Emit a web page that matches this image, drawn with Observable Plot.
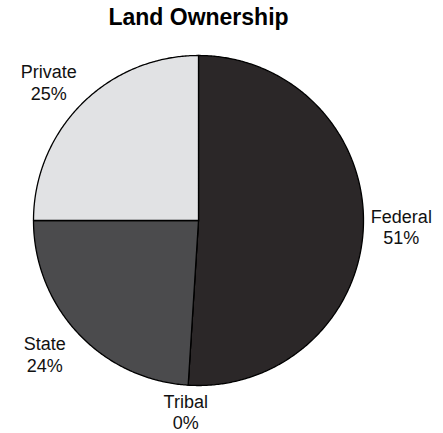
<!DOCTYPE html>
<html>
<head>
<meta charset="utf-8">
<script src="https://cdn.jsdelivr.net/npm/d3@7"></script>
<script src="https://cdn.jsdelivr.net/npm/@observablehq/plot@0.6"></script>
<style>
  html, body { margin: 0; padding: 0; background: #fff; }
</style>
</head>
<body>
<div id="chart"></div>
<script>
const title = "Land Ownership";
const categories = ["Federal", "Tribal", "State", "Private"];
const values = [51, 0, 24, 25];
const colors = ["#2b2728", "#3a3a3c", "#4b4b4d", "#e1e2e4"];

const total = d3.sum(values);
// angles clockwise from 12 o'clock
const pie = d3.pie().sort(null).value(d => d)(values);

const wedgePoints = [];
pie.forEach((p, i) => {
  const a0 = p.startAngle, a1 = p.endAngle;
  const n = Math.max(1, Math.ceil((a1 - a0) / (Math.PI / 360)));
  wedgePoints.push({name: categories[i], x: 0, y: 0});
  for (let k = 0; k <= n; k++) {
    const a = a0 + (a1 - a0) * k / n;
    wedgePoints.push({name: categories[i], x: Math.sin(a), y: Math.cos(a)});
  }
  wedgePoints.push({name: categories[i], x: 0, y: 0});
});

// label placed outside the slice: radial point plus half a text box
const r0 = 1.1, hw = 0.13, hh = 0.06;
const labels = pie.map((p, i) => {
  const a = (p.startAngle + p.endAngle) / 2;
  const sx = Math.sin(a), cy = Math.cos(a);
  const m = Math.max(Math.abs(sx), Math.abs(cy));
  return {
    text: categories[i] + "\n" + Math.round(values[i] / total * 100) + "%",
    x: sx * r0 + hw * sx / m,
    y: cy * r0 + hh * cy / m
  };
});

const chart = Plot.plot({
  width: 443,
  height: 433,
  marginLeft: 33,
  marginRight: 80,
  marginTop: 55,
  marginBottom: 48,
  x: {domain: [-1, 1], axis: null},
  y: {domain: [-1, 1], axis: null},
  color: {domain: categories, range: colors},
  style: {fontFamily: "'Liberation Sans', Arial, Helvetica, sans-serif", background: "#fff", overflow: "visible"},
  marks: [
    Plot.line(wedgePoints, {x: "x", y: "y", z: "name", fill: "name", stroke: "#000", strokeWidth: 1.3, strokeLinejoin: "round", curve: "linear"}),
    Plot.text(labels, {x: "x", y: "y", text: "text", fontSize: 18, lineHeight: 1.2, fill: "#111", textAnchor: "middle", lineAnchor: "middle"}),
    Plot.text([title], {frameAnchor: "top", dy: -38, text: d => d, fontSize: 23, fontWeight: "bold", fill: "#000", lineAnchor: "middle"})
  ]
});
document.getElementById("chart").appendChild(chart);
</script>
</body>
</html>
